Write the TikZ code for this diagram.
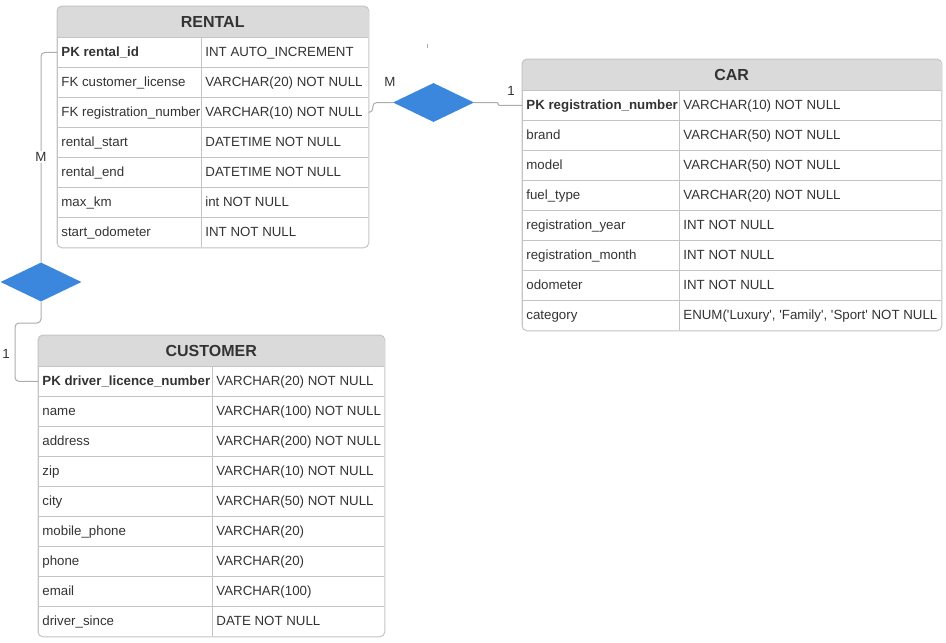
\documentclass[tikz,border=0pt]{standalone}
\usepackage{fontspec}
\setmainfont{Liberation Sans}
\usepackage{tikz}
\usetikzlibrary{shapes.geometric}
\definecolor{hdrgray}{RGB}{218,218,218}
\definecolor{linegray}{RGB}{196,196,196}
\definecolor{conngray}{RGB}{172,172,172}
\definecolor{txtgray}{RGB}{51,51,51}
\definecolor{relblue}{RGB}{59,135,221}
\newcommand{\rowstrut}{\rule[-3pt]{0pt}{13.6pt}}

\begin{document}
\begin{tikzpicture}[x=1pt,y=-1pt,font=\fontsize{13.3}{15}\selectfont,text=txtgray,
    hdr/.style={anchor=north west,minimum height=31pt,inner sep=0pt,font=\fontsize{16}{18}\selectfont\bfseries},
    cell/.style={draw=linegray,line width=0.8pt,anchor=north west,minimum height=30pt,inner xsep=4pt,inner ysep=0pt},
    border/.style={draw=linegray,line width=1pt,rounded corners=5pt},
    rel/.style={diamond,fill=relblue,minimum width=81pt,minimum height=39pt,inner sep=0pt},
    conn/.style={draw=conngray,line width=1pt,rounded corners=4pt},
    card/.style={inner sep=1pt}]
  \useasboundingbox (0,0) rectangle (946,643);

  % RENTAL
  \begin{scope}
    \clip[rounded corners=5pt] (57,6) rectangle (368,247);
    \fill[hdrgray] (57,6) rectangle (368,37);
    \foreach \k/\t [count=\i] in {{\textbf{PK rental\_id}}/{INT AUTO\_INCREMENT},
        {FK customer\_license}/{VARCHAR(20) NOT NULL},
        {FK registration\_number}/{VARCHAR(10) NOT NULL},
        {rental\_start}/{DATETIME NOT NULL},
        {rental\_end}/{DATETIME NOT NULL},
        {max\_km}/{int NOT NULL},
        {start\_odometer}/{INT NOT NULL}}{
      \node[cell,minimum width=144pt] (rental-k\i) at (57,{7+30*\i}) {\makebox[136pt][l]{\rowstrut\k}};
      \node[cell,minimum width=167pt] (rental-t\i) at (201,{7+30*\i}) {\makebox[159pt][l]{\rowstrut\t}};
    }
  \end{scope}
  \node[hdr,minimum width=311pt] (rental) at (57,6) {RENTAL};
  \draw[border] (rental.north west) rectangle (rental-t7.south east);

  % CAR
  \begin{scope}
    \clip[rounded corners=5pt] (522,59) rectangle (941,330);
    \fill[hdrgray] (522,59) rectangle (941,90);
    \foreach \k/\t [count=\i] in {{\textbf{PK registration\_number}}/{VARCHAR(10) NOT NULL},
        {brand}/{VARCHAR(50) NOT NULL},
        {model}/{VARCHAR(50) NOT NULL},
        {fuel\_type}/{VARCHAR(20) NOT NULL},
        {registration\_year}/{INT NOT NULL},
        {registration\_month}/{INT NOT NULL},
        {odometer}/{INT NOT NULL},
        {category}/{ENUM(\textquotesingle Luxury\textquotesingle, \textquotesingle Family\textquotesingle, \textquotesingle Sport\textquotesingle\ NOT NULL}}{
      \node[cell,minimum width=157pt] (car-k\i) at (522,{60+30*\i}) {\makebox[149pt][l]{\rowstrut\k}};
      \node[cell,minimum width=262pt] (car-t\i) at (679,{60+30*\i}) {\makebox[254pt][l]{\rowstrut\t}};
    }
  \end{scope}
  \node[hdr,minimum width=419pt] (car) at (522,59) {CAR};
  \draw[border] (car.north west) rectangle (car-t8.south east);

  % CUSTOMER
  \begin{scope}
    \clip[rounded corners=5pt] (38,335) rectangle (384,636);
    \fill[hdrgray] (38,335) rectangle (384,366);
    \foreach \k/\t [count=\i] in {{\textbf{PK driver\_licence\_number}}/{VARCHAR(20) NOT NULL},
        {name}/{VARCHAR(100) NOT NULL},
        {address}/{VARCHAR(200) NOT NULL},
        {zip}/{VARCHAR(10) NOT NULL},
        {city}/{VARCHAR(50) NOT NULL},
        {mobile\_phone}/{VARCHAR(20)},
        {phone}/{VARCHAR(20)},
        {email}/{VARCHAR(100)},
        {driver\_since}/{DATE NOT NULL}}{
      \node[cell,minimum width=174pt] (cust-k\i) at (38,{336+30*\i}) {\makebox[166pt][l]{\rowstrut\k}};
      \node[cell,minimum width=172pt] (cust-t\i) at (212,{336+30*\i}) {\makebox[164pt][l]{\rowstrut\t}};
    }
  \end{scope}
  \node[hdr,minimum width=346pt] (cust) at (38,335) {CUSTOMER};
  \draw[border] (cust.north west) rectangle (cust-t9.south east);

  % relations
  \node[rel] (rentcust) at (41,282) {};
  \node[rel] (rentcar) at (433.5,102.5) {};
  \coordinate (bend) at (15,323);
  \draw[conn] (rental-k1.west) -| (rentcust.north);
  \draw[conn] (rentcust.south) |- (bend) |- (cust-k1.west);
  \draw[conn] (rental-t3.east) -- ++(4,0) |- (rentcar.west);
  \draw[conn,rounded corners=1pt] (rentcar.east) -- ++(24,0) |- (car-k1.west);
  \draw[conngray] (427,44) -- (427,48);
  \node[card,fill=white] (m-cust) at (41,157) {M};
  \node[card] (one-cust) at (6,354) {1};
  \node[card] (m-car) at (390,82) {M};
  \node[card] (one-car) at (511,91) {1};
\end{tikzpicture}
\end{document}
